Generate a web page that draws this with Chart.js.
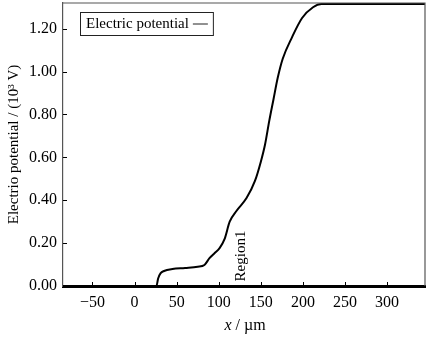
<!DOCTYPE html>
<html>
<head>
<meta charset="utf-8">
<script src="https://cdn.jsdelivr.net/npm/chart.js@4"></script>
<style>
  html, body { margin: 0; padding: 0; background: #fff; }
  #wrap { width: 432px; height: 338px; }
</style>
</head>
<body>
<div id="wrap"><canvas id="potential-chart"></canvas></div>
<script>
// values (x in µm, potential in 10^3 V)
const xValues = [-85, 26, 28, 31, 35, 45, 60, 75, 83, 89, 95, 101, 107, 113, 121, 133, 143, 150, 155, 160, 165, 170, 176, 187, 199, 212, 222, 345];
const potential = [0, 0, 0.035, 0.06, 0.07, 0.079, 0.084, 0.09, 0.098, 0.13, 0.153, 0.177, 0.22, 0.30, 0.35, 0.41, 0.49, 0.58, 0.66, 0.77, 0.87, 0.97, 1.06, 1.16, 1.25, 1.30, 1.315, 1.315];
const xTicks = [-50, 0, 50, 100, 150, 200, 250, 300];
const yTicks = [0, 0.2, 0.4, 0.6, 0.8, 1.0, 1.2];
const seriesLabel = 'Electric potential';
const regionLabel = { text: 'Region1', x: 126, y: 0.14 };

const serif = 'Liberation Serif';

const framePlugin = {
    id: 'frame',
    afterDraw(chart) {
        const { ctx, chartArea: a, scales } = chart;
        ctx.save();
        // top and right frame
        ctx.strokeStyle = '#555';
        ctx.lineWidth = 1.2;
        ctx.beginPath();
        ctx.moveTo(a.left, a.top);
        ctx.lineTo(a.right, a.top);
        ctx.lineTo(a.right, a.bottom);
        ctx.stroke();

        // inward ticks
        ctx.strokeStyle = '#000';
        ctx.lineWidth = 1;
        ctx.beginPath();
        yTicks.forEach(v => {
            const py = Math.round(scales.y.getPixelForValue(v)) + 0.5;
            ctx.moveTo(a.left, py);
            ctx.lineTo(a.left + 4, py);
        });
        xTicks.forEach(v => {
            const px = Math.round(scales.x.getPixelForValue(v)) + 0.5;
            ctx.moveTo(px, a.bottom);
            ctx.lineTo(px, a.bottom - 4);
        });
        ctx.stroke();

        // legend box
        ctx.font = '15px "' + serif + '"';
        const tw = ctx.measureText(seriesLabel).width;
        const bx = a.left + 17, by = a.top + 9, bh = 23;
        const bw = tw + 30;
        ctx.strokeStyle = '#222';
        ctx.strokeRect(bx + 0.5, by + 0.5, bw, bh);
        ctx.fillStyle = '#000';
        ctx.textBaseline = 'middle';
        ctx.fillText(seriesLabel, bx + 6, by + bh / 2 + 1);
        ctx.beginPath();
        ctx.moveTo(bx + 10 + tw, by + bh / 2 + 0.5);
        ctx.lineTo(bx + 25 + tw, by + bh / 2 + 0.5);
        ctx.stroke();

        // x axis title with italic x
        const tx = (a.left + a.right) / 2 + 1;
        const tyy = a.bottom + 40;
        ctx.textBaseline = 'middle';
        ctx.font = 'italic 16px "' + serif + '"';
        const w1 = ctx.measureText('x').width;
        ctx.font = '16px "' + serif + '"';
        const w2 = ctx.measureText(' / µm').width;
        const x0 = tx - (w1 + w2) / 2;
        ctx.font = 'italic 16px "' + serif + '"';
        ctx.fillText('x', x0, tyy);
        ctx.font = '16px "' + serif + '"';
        ctx.fillText(' / µm', x0 + w1, tyy);

        // region label, rotated
        const rx = scales.x.getPixelForValue(regionLabel.x);
        const ry = scales.y.getPixelForValue(regionLabel.y);
        ctx.translate(rx, ry);
        ctx.rotate(-Math.PI / 2);
        ctx.textAlign = 'center';
        ctx.font = '15px "' + serif + '"';
        ctx.fillText(regionLabel.text, 0, 0);
        ctx.restore();
    }
};

const ctx = document.getElementById('potential-chart').getContext('2d');

const potentialChart = new Chart(ctx, {
    type: 'line',
    data: {
        datasets: [{
            label: seriesLabel,
            data: xValues.map((x, i) => ({ x: x, y: potential[i] })),
            borderColor: '#000',
            borderWidth: 2,
            pointRadius: 0,
            cubicInterpolationMode: 'monotone',
            fill: false
        }]
    },
    options: {
        responsive: true,
        maintainAspectRatio: false,
        animation: false,
        layout: { padding: { top: 3, right: 7, left: 0, bottom: 0 } },
        plugins: {
            legend: { display: false },
            tooltip: { enabled: false }
        },
        scales: {
            x: {
                type: 'linear',
                min: -85,
                max: 345,
                afterBuildTicks: s => { s.ticks = xTicks.map(v => ({ value: v })); },
                afterFit: s => {
                    s.height = 52;
                    s.paddingLeft = 0; s.paddingRight = 0;
                },
                grid: { drawOnChartArea: false, drawTicks: false },
                border: { color: '#000', width: 3 },
                ticks: {
                    color: '#000',
                    padding: 7,
                    maxRotation: 0,
                    font: { family: serif, size: 16 },
                    callback: v => v < 0 ? '\u2212' + String(-v) : String(v)
                }
            },
            y: {
                type: 'linear',
                min: 0,
                max: 1.32,
                afterBuildTicks: s => { s.ticks = yTicks.map(v => ({ value: v })); },
                afterFit: s => {
                    s.width = 63;
                    s.paddingTop = 0; s.paddingBottom = 0;
                },
                grid: { drawOnChartArea: false, drawTicks: false },
                border: { color: '#555', width: 1.2 },
                ticks: {
                    color: '#000',
                    padding: 6,
                    font: { family: serif, size: 16 },
                    callback: v => v.toFixed(2)
                },
                title: {
                    display: true,
                    text: 'Electrio potential / (10³ V)',
                    color: '#000',
                    padding: { top: 5, bottom: 0 },
                    font: { family: serif, size: 15 }
                }
            }
        }
    },
    plugins: [framePlugin]
});
</script>
</body>
</html>
